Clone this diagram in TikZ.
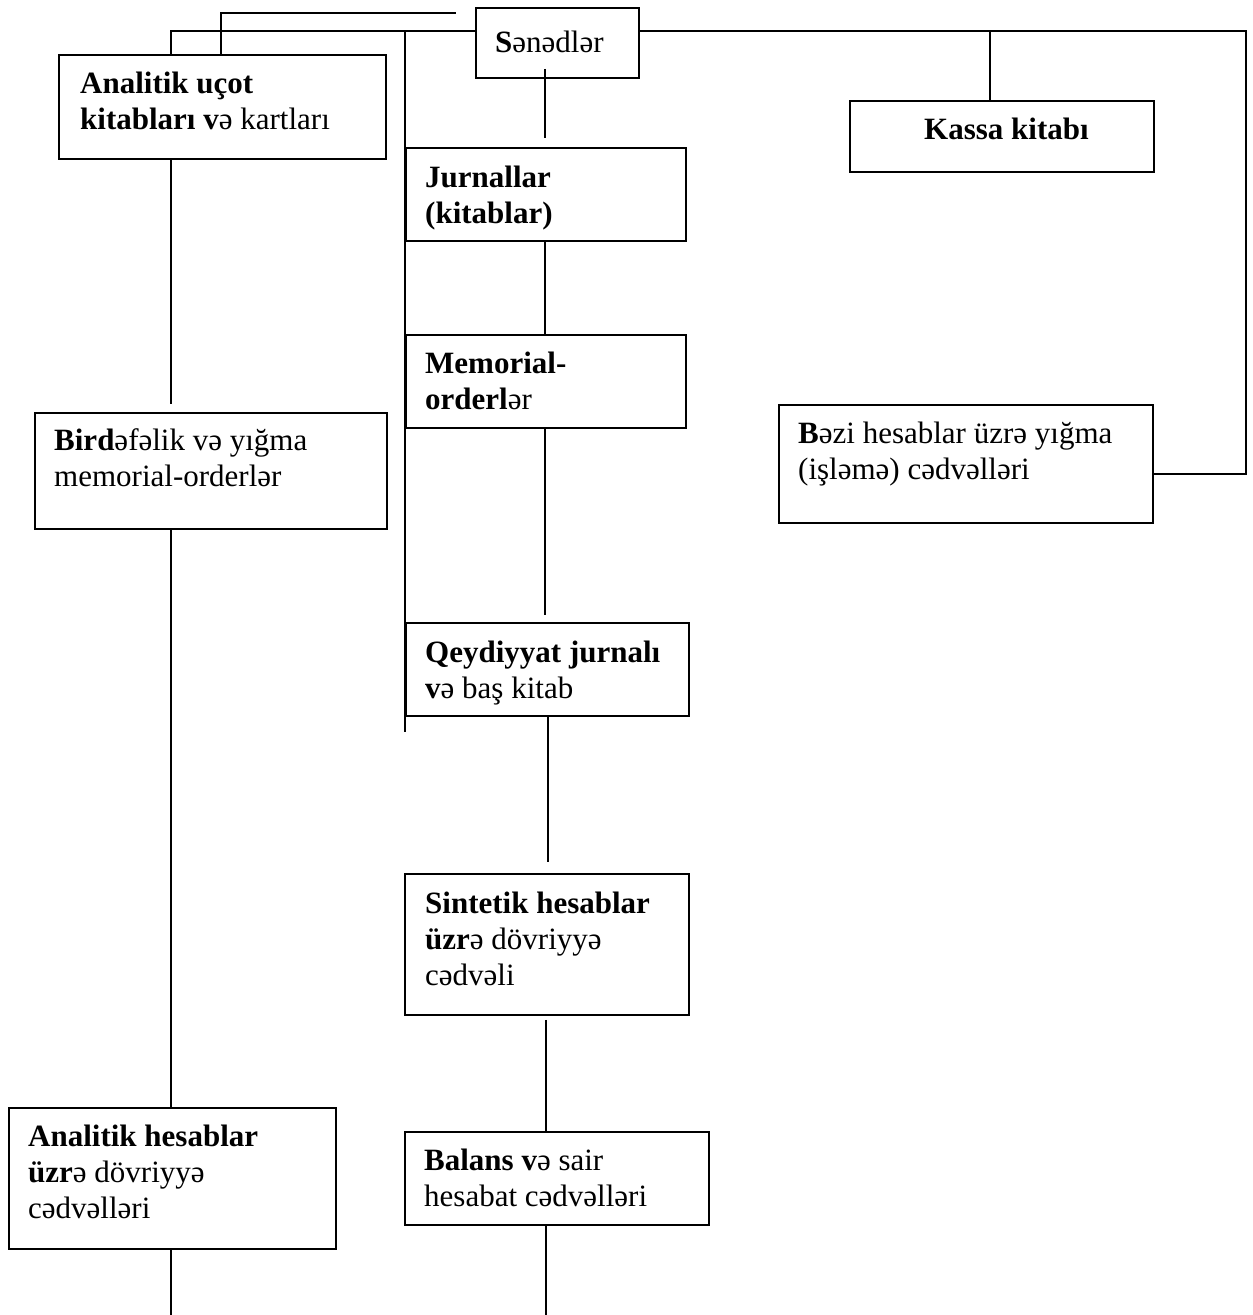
\documentclass[tikz,border=0pt]{standalone}
\usepackage{fontspec}
\setmainfont{Liberation Serif}
\usetikzlibrary{calc}
\newcommand{\boxlines}[1]{\begin{tabular}[t]{@{}l@{}}#1\end{tabular}}
\tikzset{
  box/.style={draw, line width=1.8pt, rectangle, inner sep=0pt, anchor=north west},
  txt/.style={inner sep=0pt, anchor=base west, font=\fontsize{31}{36}\selectfont},
  wire/.style={line width=1.8pt}
}
\begin{document}
\begin{tikzpicture}[x=1pt,y=-1pt]
\fill[white] (0,0) rectangle (1253,1315);
\useasboundingbox (0,0) rectangle (1253,1315);

% boxes
\node[box, minimum width=163pt, minimum height=70pt]  (sen) at (475,7) {};
\node[box, minimum width=327pt, minimum height=104pt] (auc) at (58,54) {};
\node[box, minimum width=304pt, minimum height=71pt]  (kas) at (849,100) {};
\node[box, minimum width=280pt, minimum height=93pt]  (jur) at (405,147) {};
\node[box, minimum width=280pt, minimum height=93pt]  (mem) at (405,334) {};
\node[box, minimum width=352pt, minimum height=116pt] (bir) at (34,412) {};
\node[box, minimum width=374pt, minimum height=118pt] (bez) at (778,404) {};
\node[box, minimum width=283pt, minimum height=93pt]  (qey) at (405,622) {};
\node[box, minimum width=284pt, minimum height=141pt] (sin) at (404,873) {};
\node[box, minimum width=327pt, minimum height=141pt] (ahe) at (8,1107) {};
\node[box, minimum width=304pt, minimum height=93pt]  (bal) at (404,1131) {};

% texts
\node[txt] (sen-t) at (495,52) {\textbf{S}ənədlər};
\node[txt] (auc-t) at (80,93) {\boxlines{\textbf{Analitik uçot}\\ \textbf{kitabları v}ə kartları}};
\node[txt] (kas-t) at (924,139) {\textbf{Kassa kitabı}};
\node[txt] (jur-t) at (425,187) {\boxlines{\textbf{Jurnallar}\\ \textbf{(kitablar)}}};
\node[txt] (mem-t) at (425,373) {\boxlines{\textbf{Memorial-}\\ \textbf{orderl}ər}};
\node[txt] (bir-t) at (54,450) {\boxlines{\textbf{Bird}əfəlik və yığma\\ memorial-orderlər}};
\node[txt] (bez-t) at (798,443) {\boxlines{\textbf{B}əzi hesablar üzrə yığma\\ (işləmə) cədvəlləri}};
\node[txt] (qey-t) at (425,662) {\boxlines{\textbf{Qeydiyyat jurnalı}\\ \textbf{v}ə baş kitab}};
\node[txt] (sin-t) at (425,913) {\boxlines{\textbf{Sintetik hesablar}\\ \textbf{üzr}ə dövriyyə\\ cədvəli}};
\node[txt] (ahe-t) at (28,1146) {\boxlines{\textbf{Analitik hesablar}\\ \textbf{üzr}ə dövriyyə\\ cədvəlləri}};
\node[txt] (bal-t) at (424,1170) {\boxlines{\textbf{Balans v}ə sair\\ hesabat cədvəlləri}};

% column and row guides for the connectors
\coordinate (cA) at (171,0);
\coordinate (cB) at (221,0);
\coordinate (cC) at (405,0);
\coordinate (cD) at (545,0);
\coordinate (cE) at (548,0);
\coordinate (cF) at (546,0);
\coordinate (cG) at (990,0);
\coordinate (rT2) at (0,31);
\coordinate (bottom) at (0,1315);
\coordinate (t1end) at (456,13);
\coordinate (cCend) at (405,732);
\coordinate (rcorner) at (1246,474);

% connectors
\draw[wire] (auc.north -| cB) |- (t1end);
\draw[wire] (auc.north -| cA) |- (sen.west |- rT2);
\draw[wire] (cC |- rT2) -- (cCend);
\draw[wire] (sen.east |- rT2) -| (rcorner) -- (bez.east |- rcorner);
\draw[wire] (cG |- rT2) -- (kas.north -| cG);
\draw[wire] ($(sen.south -| cD)+(0,-10)$) -- ($(jur.north -| cD)+(0,-9)$);
\draw[wire] (jur.south -| cD) -- (mem.north -| cD);
\draw[wire] (mem.south -| cD) -- ($(qey.north -| cD)+(0,-7)$);
\draw[wire] (qey.south -| cE) -- ($(sin.north -| cE)+(0,-11)$);
\draw[wire] ($(sin.south -| cF)+(0,4)$) -- (bal.north -| cF);
\draw[wire] (bal.south -| cF) -- (cF |- bottom);
\draw[wire] (auc.south -| cA) -- ($(bir.north -| cA)+(0,-8)$);
\draw[wire] (bir.south -| cA) -- (ahe.north -| cA);
\draw[wire] (ahe.south -| cA) -- (cA |- bottom);
\end{tikzpicture}
\end{document}
